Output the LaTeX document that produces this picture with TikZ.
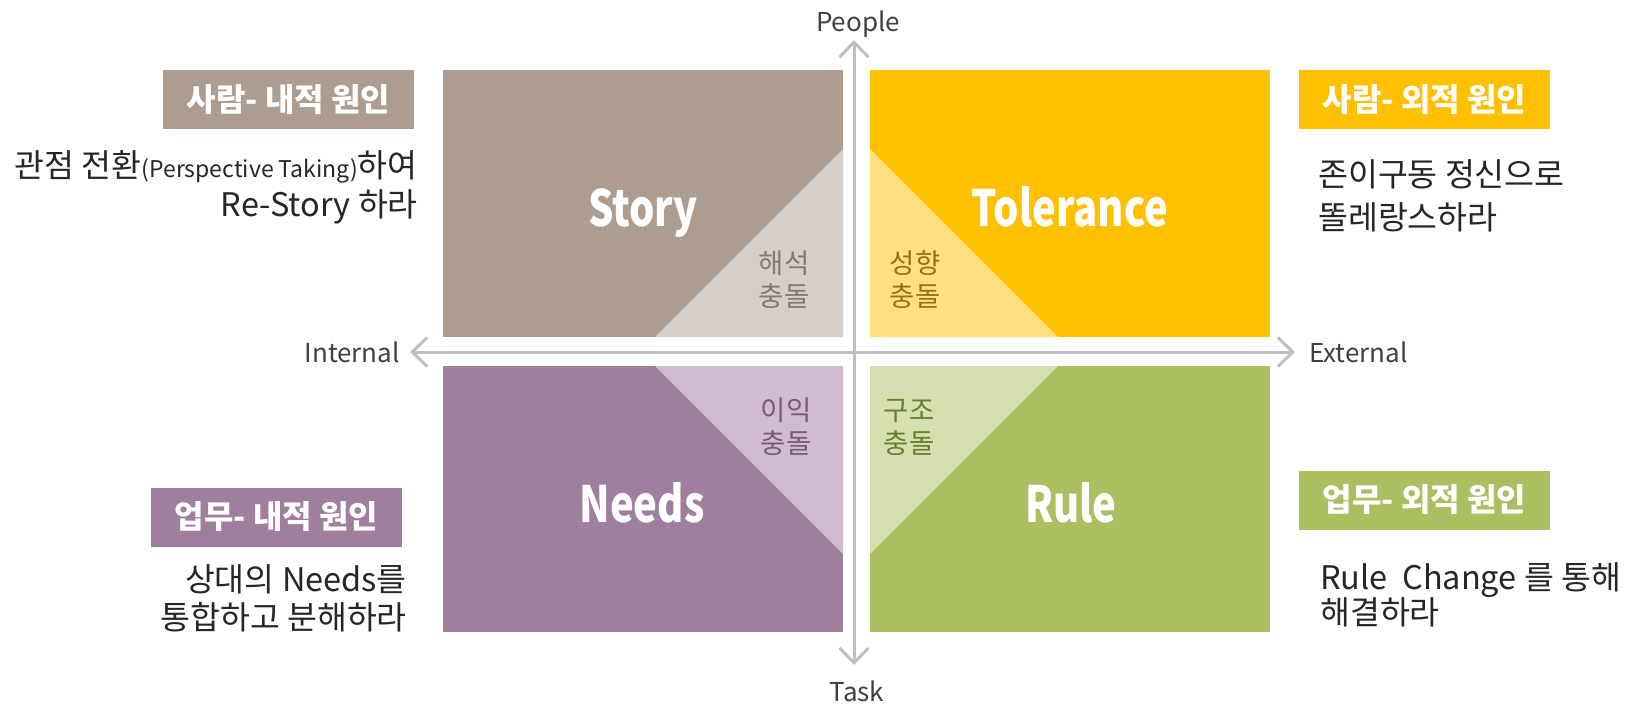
\documentclass[tikz,border=0pt]{standalone}
\usepackage{fontspec}
\usepackage{graphicx}
\setmainfont{Noto Sans CJK KR}
\usetikzlibrary{arrows.meta}
\definecolor{storyc}{HTML}{AD9D91}
\definecolor{storyl}{HTML}{D6CEC8}
\definecolor{tolc}{HTML}{FFC000}
\definecolor{toll}{HTML}{FFDF80}
\definecolor{needc}{HTML}{A07E9E}
\definecolor{needl}{HTML}{CFBDCF}
\definecolor{rulec}{HTML}{ABBF60}
\definecolor{rulel}{HTML}{D5DFB0}
\definecolor{axisc}{HTML}{BFBFBF}
\definecolor{txt}{HTML}{262626}
\definecolor{axt}{HTML}{404040}
\definecolor{storyt}{HTML}{857870}
\definecolor{tolt}{HTML}{937312}
\definecolor{needt}{HTML}{7A5B7A}
\definecolor{rulet}{HTML}{6A7E30}
\newcommand{\qlab}[1]{\scalebox{0.8}[1]{#1}}
\begin{document}
\begin{tikzpicture}[x=1pt,y=-1pt,
  quadlabel/.style={text=white, font=\fontsize{50}{56}\selectfont\bfseries, anchor=base, inner sep=0},
  tagbox/.style={minimum width=251pt, minimum height=59pt, inner sep=0, text=white, font=\fontsize{32}{36}\selectfont\bfseries},
  desc/.style={text=txt, font=\fontsize{32.5}{38}\selectfont, inner sep=0},
  conflict/.style={font=\fontsize{27.5}{33}\selectfont, align=center, inner sep=0},
  axislabel/.style={text=axt, font=\fontsize{26}{30}\selectfont, inner sep=0},
  axisline/.style={draw=axisc, line width=3pt, {Straight Barb[length=15pt,width=29pt]}-{Straight Barb[length=15pt,width=29pt]}}
]
\useasboundingbox[fill=white] (0,0) rectangle (1631,707);
% quadrants
\fill[storyc] (443,70) rectangle (843,337);
\fill[storyl] (655,337) -- (843,149) -- (843,337) -- cycle;
\fill[tolc] (870,70) rectangle (1270,337);
\fill[toll] (870,149) -- (1058,337) -- (870,337) -- cycle;
\fill[needc] (443,366) rectangle (843,632);
\fill[needl] (655,366) -- (843,366) -- (843,554) -- cycle;
\fill[rulec] (870,366) rectangle (1270,632);
\fill[rulel] (870,366) -- (1058,366) -- (870,554) -- cycle;
% axes
\coordinate (ytop) at (854,40);
\coordinate (ybot) at (854,665);
\coordinate (xleft) at (410,352);
\coordinate (xright) at (1295,352);
\draw[axisline] (ytop) -- (ybot);
\draw[axisline] (xleft) -- (xright);
\node[axislabel, anchor=base] (people) at (858,31) {People};
\node[axislabel, anchor=base] (task) at (857,701) {Task};
\node[axislabel, anchor=east] (internal) at (400,352) {Internal};
\node[axislabel, anchor=west] (external) at (1309,352) {External};
% quadrant labels
\node[quadlabel] (story) at (643,226) {\qlab{Story}};
\node[quadlabel] (tolerance) at (1070,226) {\qlab{Tolerance}};
\node[quadlabel] (needs) at (642,522) {\qlab{Needs}};
\node[quadlabel] (rule) at (1071,522) {\qlab{Rule}};
% conflict labels
\node[conflict, text=storyt] (c1) at (784,280) {해석\\충돌};
\node[conflict, text=tolt] (c2) at (915,280) {성향\\충돌};
\node[conflict, text=needt] (c3) at (786,427) {이익\\충돌};
\node[conflict, text=rulet] (c4) at (909,427) {구조\\충돌};
% tag boxes
\node[tagbox, fill=storyc] (t1) at (288.5,99.5) {사람- 내적 원인};
\node[tagbox, fill=tolc] (t2) at (1424.5,99.5) {사람- 외적 원인};
\node[tagbox, fill=needc] (t3) at (276.5,517) {업무- 내적 원인};
\node[tagbox, fill=rulec] (t4) at (1424.5,500) {업무- 외적 원인};
% descriptions
\node[desc, anchor=base east] (d1a) at (418,177) {관점 전환{\fontsize{23}{26}\selectfont(Perspective Taking)}하여};
\node[desc, anchor=base east] (d1b) at (418,216) {Re-Story 하라};
\node[desc, anchor=base west] (d2a) at (1318,186) {존이구동 정신으로};
\node[desc, anchor=base west] (d2b) at (1318,229) {똘레랑스하라};
\node[desc, anchor=base east] (d3a) at (407,591) {상대의 Needs를};
\node[desc, anchor=base east] (d3b) at (407,629) {통합하고 분해하라};
\node[desc, anchor=base west] (d4a) at (1320,589) {Rule~~Change 를 통해};
\node[desc, anchor=base west] (d4b) at (1320,624) {해결하라};
\end{tikzpicture}
\end{document}
